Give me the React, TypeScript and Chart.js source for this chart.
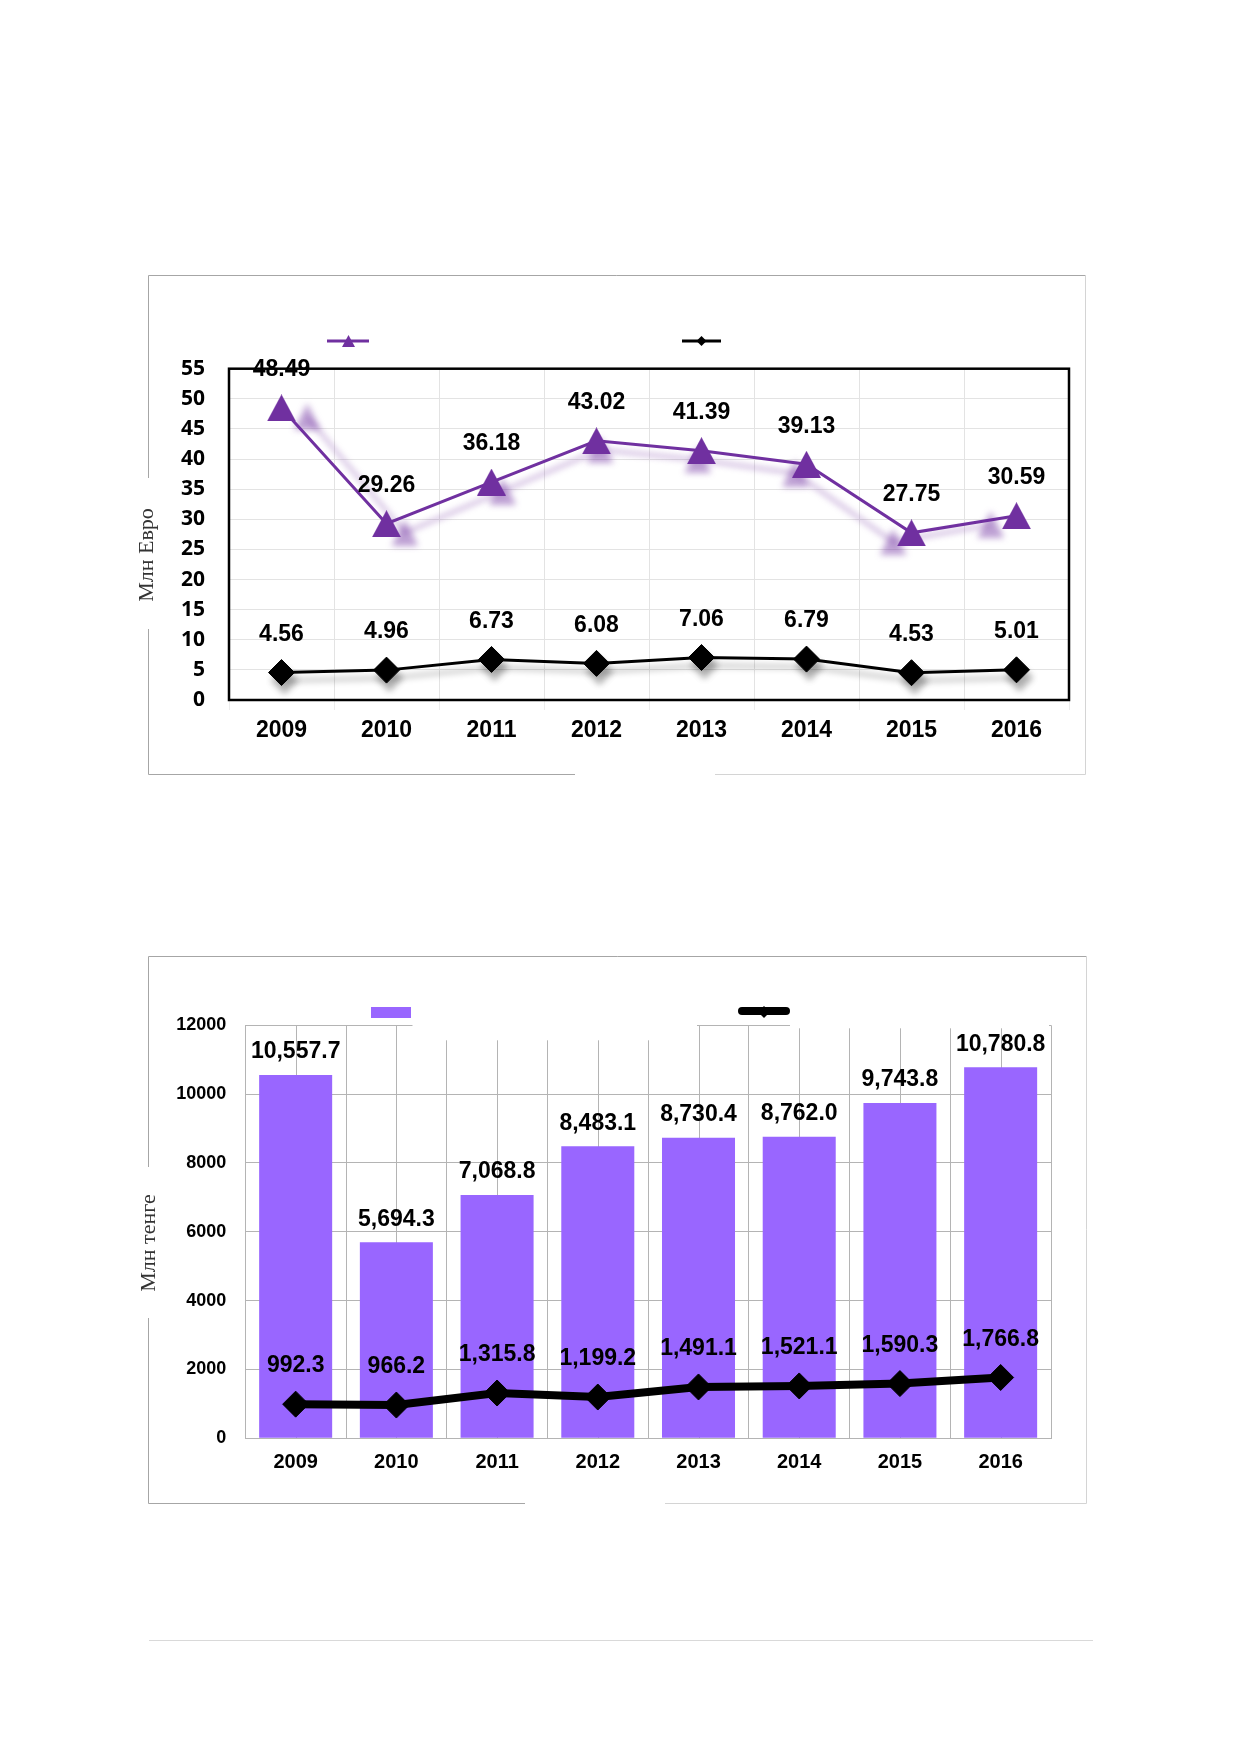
import { useEffect, useRef } from 'react';
import { Chart, registerables } from 'chart.js';

Chart.register(...registerables);

// ---- values ----
const years = ['2009', '2010', '2011', '2012', '2013', '2014', '2015', '2016'];
const euroUpper = [48.49, 29.26, 36.18, 43.02, 41.39, 39.13, 27.75, 30.59];
const euroLower = [4.56, 4.96, 6.73, 6.08, 7.06, 6.79, 4.53, 5.01];
const tengeBars = [10557.7, 5694.3, 7068.8, 8483.1, 8730.4, 8762.0, 9743.8, 10780.8];
const tengeLine = [992.3, 966.2, 1315.8, 1199.2, 1491.1, 1521.1, 1590.3, 1766.8];
const euroTicks = [0, 55, 5]; // min, max, step
const tengeTicks = [0, 12000, 2000];

const PURPLE = '#7030A0';
const BAR = '#9966FF';
const SANS = '"Liberation Sans", Arial, sans-serif';
const SERIF = '"Liberation Serif", "Times New Roman", serif';

// triangle marker centred on its box, like the office one
function triangleImage(w: number, h: number, color: string) {
  const c = document.createElement('canvas');
  c.width = w;
  c.height = h;
  const g = c.getContext('2d')!;
  g.fillStyle = color;
  g.beginPath();
  g.moveTo(w / 2, 0);
  g.lineTo(w, h);
  g.lineTo(0, h);
  g.closePath();
  g.fill();
  return c;
}

function diamond(ctx: CanvasRenderingContext2D, x: number, y: number, r: number) {
  ctx.beginPath();
  ctx.moveTo(x - r, y);
  ctx.lineTo(x, y - r);
  ctx.lineTo(x + r, y);
  ctx.lineTo(x, y + r);
  ctx.closePath();
  ctx.fill();
}

type Frame = {
  box: number[];
  leftGap: number[];
  bottomGap: number[];
  title: string;
  titleAt: number[];
};

// white page, outer border (with the gaps) and the axis title
function framePlugin(f: Frame) {
  return {
    id: 'frame',
    beforeDraw(chart: Chart) {
      const { ctx, width, height } = chart;
      const [l, t, r, b] = f.box;
      ctx.save();
      ctx.fillStyle = '#fff';
      ctx.fillRect(0, 0, width, height);
      ctx.lineWidth = 1;
      ctx.strokeStyle = '#a6a6a6';
      ctx.beginPath();
      ctx.moveTo(l + 0.5, f.leftGap[0]);
      ctx.lineTo(l + 0.5, t + 0.5);
      ctx.lineTo(r, t + 0.5);
      ctx.moveTo(l + 0.5, f.leftGap[1]);
      ctx.lineTo(l + 0.5, b + 0.5);
      ctx.lineTo(f.bottomGap[0], b + 0.5);
      ctx.stroke();
      ctx.strokeStyle = '#d4d4d4';
      ctx.beginPath();
      ctx.moveTo(r + 0.5, t);
      ctx.lineTo(r + 0.5, b + 0.5);
      ctx.lineTo(f.bottomGap[1], b + 0.5);
      ctx.stroke();
      ctx.translate(f.titleAt[0], f.titleAt[1]);
      ctx.rotate(-Math.PI / 2);
      ctx.font = `22px ${SERIF}`;
      ctx.fillStyle = '#333';
      ctx.textAlign = 'center';
      ctx.textBaseline = 'middle';
      ctx.fillText(f.title, 0, 0);
      ctx.restore();
    },
  };
}

function valueLabels(format: (v: number) => string, size: number, lineGap: number, barGap: number) {
  return {
    id: 'valueLabels',
    afterDatasetsDraw(chart: Chart) {
      const ctx = chart.ctx;
      ctx.save();
      ctx.font = `bold ${size}px ${SANS}`;
      ctx.fillStyle = '#000';
      ctx.textAlign = 'center';
      ctx.textBaseline = 'middle';
      chart.data.datasets.forEach((ds, i) => {
        const meta = chart.getDatasetMeta(i);
        meta.data.forEach((el: any, j) => {
          const gap = meta.type === 'bar' ? barGap : lineGap;
          ctx.fillText(format(ds.data[j] as number), el.x, el.y - gap);
        });
      });
      ctx.restore();
    },
  };
}

// soft drop shadow under the lines of the first chart
const shadowPlugin = {
  id: 'shadow',
  beforeDatasetsDraw(chart: Chart) {
    const { ctx, chartArea } = chart;
    const cx = (chartArea.left + chartArea.right) / 2;
    chart.data.datasets.forEach((ds: any, i) => {
      const s = ds.shadow;
      if (!s) return;
      const meta = chart.getDatasetMeta(i);
      ctx.save();
      ctx.globalAlpha = s.alpha;
      ctx.filter = `blur(${s.blur}px)`;
      ctx.translate(cx + s.dx, s.dy);
      ctx.scale(s.k, 1);
      ctx.translate(-cx, 0);
      (meta.dataset as any).draw(ctx, chartArea);
      meta.data.forEach((p: any) => p.draw(ctx, chartArea));
      ctx.restore();
    });
  },
};

const plotBorder = {
  id: 'plotBorder',
  beforeDatasetsDraw(chart: Chart) {
    const { ctx, chartArea: a } = chart;
    ctx.save();
    ctx.strokeStyle = '#000';
    ctx.lineWidth = 2.5;
    ctx.strokeRect(a.left, a.top, a.right - a.left, a.bottom - a.top);
    ctx.restore();
  },
};

const euroLegend = {
  id: 'euroLegend',
  afterDraw(chart: Chart) {
    const ctx = chart.ctx;
    ctx.save();
    ctx.lineWidth = 3;
    ctx.strokeStyle = PURPLE;
    ctx.beginPath();
    ctx.moveTo(207, 76);
    ctx.lineTo(249, 76);
    ctx.stroke();
    ctx.drawImage(triangleImage(13, 12, PURPLE), 222, 70);
    ctx.strokeStyle = '#000';
    ctx.beginPath();
    ctx.moveTo(562, 76);
    ctx.lineTo(601, 76);
    ctx.stroke();
    ctx.fillStyle = '#000';
    diamond(ctx, 581.5, 76, 5);
    ctx.restore();
  },
};

// second chart: centre grid lines, the white strip at the top, legend
const tengeExtras = {
  id: 'tengeExtras',
  beforeDatasetsDraw(chart: Chart) {
    const { ctx, chartArea: a } = chart;
    const x = chart.scales.x;
    ctx.save();
    ctx.strokeStyle = '#b4b4b4';
    ctx.lineWidth = 1;
    years.forEach((_, i) => {
      const px = Math.round(x.getPixelForValue(i)) + 0.5;
      ctx.beginPath();
      ctx.moveTo(px, a.top);
      ctx.lineTo(px, a.bottom);
      ctx.stroke();
    });
    ctx.fillStyle = '#fff';
    ctx.fillRect(292.5, a.top - 2, 284.5, 17);
    ctx.fillRect(670, a.top - 2, 259, 5);
    ctx.restore();
  },
  afterDraw(chart: Chart) {
    const ctx = chart.ctx;
    ctx.save();
    ctx.fillStyle = BAR;
    ctx.fillRect(251, 62, 40, 11);
    ctx.strokeStyle = '#000';
    ctx.lineWidth = 8;
    ctx.lineCap = 'round';
    ctx.beginPath();
    ctx.moveTo(622, 66);
    ctx.lineTo(666, 66);
    ctx.stroke();
    ctx.fillStyle = '#000';
    diamond(ctx, 644, 67, 6);
    ctx.restore();
  },
};

function euroConfig(): any {
  return {
    type: 'line',
    data: {
      labels: years,
      datasets: [
        {
          label: 'Ряд1',
          data: euroUpper,
          borderColor: PURPLE,
          backgroundColor: PURPLE,
          borderWidth: 3,
          pointStyle: triangleImage(29, 27, PURPLE),
          pointRadius: 14,
          clip: false,
          shadow: { k: 0.93, dx: 0, dy: 9, alpha: 0.45, blur: 3 },
        },
        {
          label: 'Ряд2',
          data: euroLower,
          borderColor: '#000',
          backgroundColor: '#000',
          borderWidth: 3,
          pointStyle: 'rectRot',
          pointRadius: 13,
          pointBorderWidth: 1,
          clip: false,
          shadow: { k: 1, dx: 3, dy: 8, alpha: 0.3, blur: 3 },
        },
      ],
    },
    options: {
      animation: false,
      responsive: false,
      events: [],
      layout: { padding: { top: 103.7, right: 41, bottom: 35, left: 0 } },
      plugins: { legend: { display: false }, tooltip: { enabled: false } },
      scales: {
        x: {
          offset: true,
          grid: { offset: true, color: '#e3e3e3', tickLength: 10, tickColor: '#ececec' },
          border: { display: false },
          ticks: { color: '#000', font: { family: SANS, size: 23, weight: 'bold' }, padding: 7, maxRotation: 0, autoSkip: false },
          afterFit: (s: any) => { s.height = 50; },
        },
        y: {
          min: euroTicks[0],
          max: euroTicks[1],
          ticks: { stepSize: euroTicks[2], color: '#000', font: { family: '"Open Sans", sans-serif', size: 21, weight: 'bold' }, padding: 24 },
          grid: { color: '#e3e3e3', drawTicks: false },
          border: { display: false },
          afterFit: (s: any) => { s.width = 109; },
        },
      },
    },
    plugins: [
      framePlugin({ box: [28, 10, 965, 509], leftGap: [213, 364], bottomGap: [455, 595], title: 'Млн Евро', titleAt: [27, 290] }),
      plotBorder,
      shadowPlugin,
      valueLabels((v) => v.toFixed(2), 23, 38, 0),
      euroLegend,
    ],
  };
}

const fmtTenge = (v: number) => v.toLocaleString('en-US', { minimumFractionDigits: 1, maximumFractionDigits: 1 });

function tengeConfig(): any {
  return {
    type: 'bar',
    data: {
      labels: years,
      datasets: [
        {
          type: 'line',
          label: 'Ряд2',
          data: tengeLine,
          borderColor: '#000',
          backgroundColor: '#000',
          borderWidth: 8,
          pointStyle: 'rectRot',
          pointRadius: 13,
          pointBorderWidth: 1,
          clip: false,
          order: 0,
        },
        {
          type: 'bar',
          label: 'Ряд1',
          data: tengeBars,
          backgroundColor: BAR,
          barPercentage: 0.725,
          categoryPercentage: 1,
          order: 1,
        },
      ],
    },
    options: {
      animation: false,
      responsive: false,
      events: [],
      layout: { padding: { top: 80.3, right: 59, bottom: 36.7, left: 0 } },
      plugins: { legend: { display: false }, tooltip: { enabled: false } },
      scales: {
        x: {
          offset: true,
          grid: { offset: true, color: '#b4b4b4', drawTicks: false },
          border: { color: '#b4b4b4' },
          ticks: { color: '#000', font: { family: SANS, size: 20, weight: 'bold' }, padding: 12, maxRotation: 0, autoSkip: false },
          afterFit: (s: any) => { s.height = 40; },
        },
        y: {
          min: tengeTicks[0],
          max: tengeTicks[1],
          ticks: {
            stepSize: tengeTicks[2],
            color: '#000',
            font: { family: SANS, size: 18, weight: 'bold' },
            padding: 19,
            callback: (v: number) => String(v),
          },
          grid: { color: '#b4b4b4', drawTicks: false },
          border: { color: '#b4b4b4' },
          afterFit: (s: any) => { s.width = 125.3; },
        },
      },
    },
    plugins: [
      framePlugin({ box: [28, 11, 966, 558], leftGap: [222, 373], bottomGap: [405, 545], title: 'Млн тенге', titleAt: [29, 298] }),
      tengeExtras,
      valueLabels(fmtTenge, 23, 38, 23),
    ],
  };
}

function ChartBox({ make, left, top, width, height }: { make: () => any; left: number; top: number; width: number; height: number }) {
  const ref = useRef<HTMLCanvasElement>(null);
  useEffect(() => {
    if (!ref.current) return;
    const chart = new Chart(ref.current, make());
    return () => chart.destroy();
  }, []);
  return (
    <canvas
      ref={ref}
      width={width}
      height={height}
      style={{ position: 'absolute', left, top, width, height }}
    />
  );
}

export default function App() {
  return (
    <div style={{ position: 'absolute', left: 0, top: 0, width: 1239, height: 1752, background: '#fff' }}>
      <ChartBox make={euroConfig} left={120} top={265} width={990} height={520} />
      <ChartBox make={tengeConfig} left={120} top={945} width={990} height={570} />
      <div style={{ position: 'absolute', left: 149, top: 1640, width: 944, height: 1, background: '#d9d9d9' }} />
    </div>
  );
}
